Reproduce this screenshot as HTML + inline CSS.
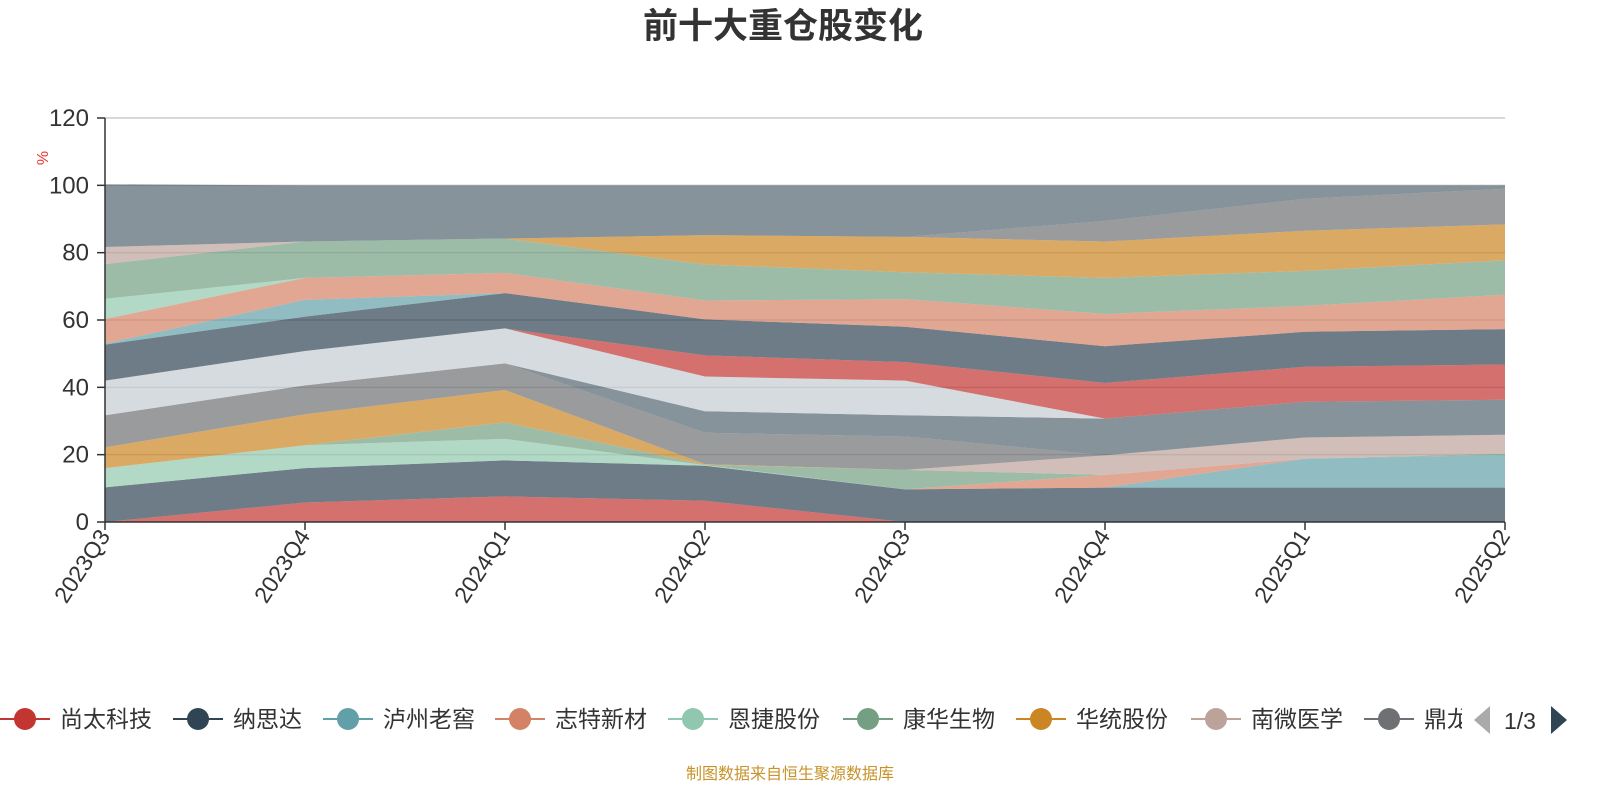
<!DOCTYPE html>
<html><head><meta charset="utf-8"><style>
body{margin:0;background:#fff;width:1600px;height:800px;overflow:hidden;font-family:"Liberation Sans","Noto Sans CJK SC",sans-serif}
svg text{font-family:"Liberation Sans","Noto Sans CJK SC",sans-serif}
</style></head><body>
<svg id="chart" width="1600" height="800" xmlns="http://www.w3.org/2000/svg">
<text x="783" y="38" text-anchor="middle" font-size="35" font-weight="bold" fill="#333">前十大重仓股变化</text>
<g id="grid"></g>
<g id="areas"></g>
<g id="axes"></g>
<text x="48" y="158" font-size="16" fill="#e33" transform="rotate(-90 48 158)" text-anchor="middle">%</text>
<g id="legend"></g>
<polygon points="1490,706 1490,734 1474,720" fill="#aaa"/>
<text x="1520" y="729" font-size="23" fill="#333" text-anchor="middle">1/3</text>
<polygon points="1551,706 1551,734 1567,720" fill="#2f4554"/>
<text x="790" y="779" font-size="16" fill="#c8922a" text-anchor="middle">制图数据来自恒生聚源数据库</text>
</svg>
<script>
const categories=["2023Q3","2023Q4","2024Q1","2024Q2","2024Q3","2024Q4","2025Q1","2025Q2"];
const yTicks=[0,20,40,60,80,100,120];
const seriesNames=["尚太科技","纳思达","泸州老窖","志特新材","恩捷股份","康华生物","华统股份","南微医学","鼎龙股份","持仓10","持仓11","持仓12","持仓13","持仓14","持仓15","持仓16","持仓17","持仓18","持仓19","持仓20","持仓21"];
const s1=[0,5.8,7.6,6.3,0,0,0,0];
const s2=[10.3,10.2,10.7,10.4,9.7,10.2,10.2,10.2];
const s3=[0,0,0,0,0,0,8.6,9.7];
const s4=[0,0,0,0,0,3.8,0,0];
const s5=[5.7,6.8,6.4,0.2,0,0,0,0];
const s6=[0,0,4.9,0.1,5.8,0,0,0.4];
const s7=[6.2,9.2,9.6,0.2,0,0,0,0];
const s8=[0,0,0,0,0,5.8,6.3,5.6];
const s9=[9.5,8.6,7.9,9.3,9.9,0,0,0];
const s10=[0,0,0,6.4,6.3,10.9,10.6,10.4];
const s11=[10.3,10.2,10.4,10.3,10.3,0,0,0];
const s12=[0,0,0,6.3,5.5,10.6,10.4,10.5];
const s13=[10.7,10.2,10.5,10.7,10.5,10.9,10.4,10.5];
const s14=[0.3,5,0,0,0,0,0,0];
const s15=[7.3,6.5,6,5.6,8.2,9.6,7.7,10.2];
const s16=[6,0,0,0,0,0,0,0];
const s17=[10.3,10.8,10.2,10.7,8,10.7,10.4,10.2];
const s18=[0,0,0,8.7,10.5,10.8,11.9,10.7];
const s19=[5.1,0,0,0,0,0,0,0];
const s20=[0,0,0,0,0,6.1,9.5,10.6];
const s21=[18.6,16.7,15.8,14.8,15.3,10.6,4,1];
const seriesValues=[s1,s2,s3,s4,s5,s6,s7,s8,s9,s10,s11,s12,s13,s14,s15,s16,s17,s18,s19,s20,s21];
const palette=["#c23531","#2f4554","#61a0a8","#d48265","#91c7ae","#749f83","#ca8622","#bda29a","#6e7074","#546570","#c4ccd3"];
const NS="http://www.w3.org/2000/svg";
const X0=105,X1=1505,Y0=522,Y1=118,YMAX=120;
const xS=i=>X0+i*(X1-X0)/(categories.length-1);
const yS=v=>Y0-v*(Y0-Y1)/YMAX;
function mk(tag,attrs,parent){const e=document.createElementNS(NS,tag);for(const k in attrs)e.setAttribute(k,attrs[k]);parent.appendChild(e);return e;}
const grid=document.getElementById('grid'),areas=document.getElementById('areas'),axes=document.getElementById('axes'),legend=document.getElementById('legend');
yTicks.forEach(t=>{
  if(t>0){const l=mk('line',{x1:X0,x2:X1,y1:yS(t),y2:yS(t),stroke:'#ccc','stroke-width':1.5},grid);
  
  }
  const tk=mk('line',{x1:X0-8,x2:X0,y1:yS(t),y2:yS(t),stroke:'#333','stroke-width':1.5},axes);
  
  
  const tx=mk('text',{x:X0-16,y:yS(t)+8,'text-anchor':'end','font-size':24,fill:'#333'},axes);tx.textContent=t;
  
  
});
let cum=categories.map(()=>0);
seriesValues.forEach((vals,si)=>{
  const lower=cum.slice(),upper=cum.map((c,i)=>c+vals[i]);
  let d='M'+upper.map((v,i)=>xS(i)+','+yS(v)).join(' L');
  for(let i=lower.length-1;i>=0;i--)d+=' L'+xS(i)+','+yS(lower[i]);
  d+='Z';
  const p=mk('path',{d:d,fill:palette[si%palette.length],'fill-opacity':0.7},areas);
  
  
  cum=upper;
});
const ax=mk('line',{x1:X0,x2:X0,y1:Y1,y2:Y0,stroke:'#333','stroke-width':1.5},axes);


const xa=mk('line',{x1:X0,x2:X1,y1:Y0,y2:Y0,stroke:'#333','stroke-width':1.5},axes);


categories.forEach((c,i)=>{
  const tk=mk('line',{x1:xS(i),x2:xS(i),y1:Y0,y2:Y0+8,stroke:'#333','stroke-width':1.5},axes);
  
  
  const x=xS(i)+6,y=Y0+14;
  const t=mk('text',{x:x,y:y,'text-anchor':'end','font-size':23,fill:'#333',transform:'rotate(-57 '+x+' '+y+')'},axes);t.textContent=c;
  
  
});
const lgX=[2,175,325,497,670,845,1018,1193,1366];
const clip=mk('clipPath',{id:'lgclip'},legend);mk('rect',{x:0,y:690,width:1462,height:60},clip);
const lg=mk('g',{'clip-path':'url(#lgclip)'},legend);
lgX.forEach((x,i)=>{
  const g=mk('g',{},lg);
  
  
  const col=palette[i];
  mk('line',{x1:x-2,x2:x+48,y1:719,y2:719,stroke:col,'stroke-width':2},g);
  mk('circle',{cx:x+23,cy:719,r:11,fill:col},g);
  const t=mk('text',{x:x+58,y:727,'font-size':23,fill:'#333'},g);t.textContent=seriesNames[i];
});
</script>
</body></html>
